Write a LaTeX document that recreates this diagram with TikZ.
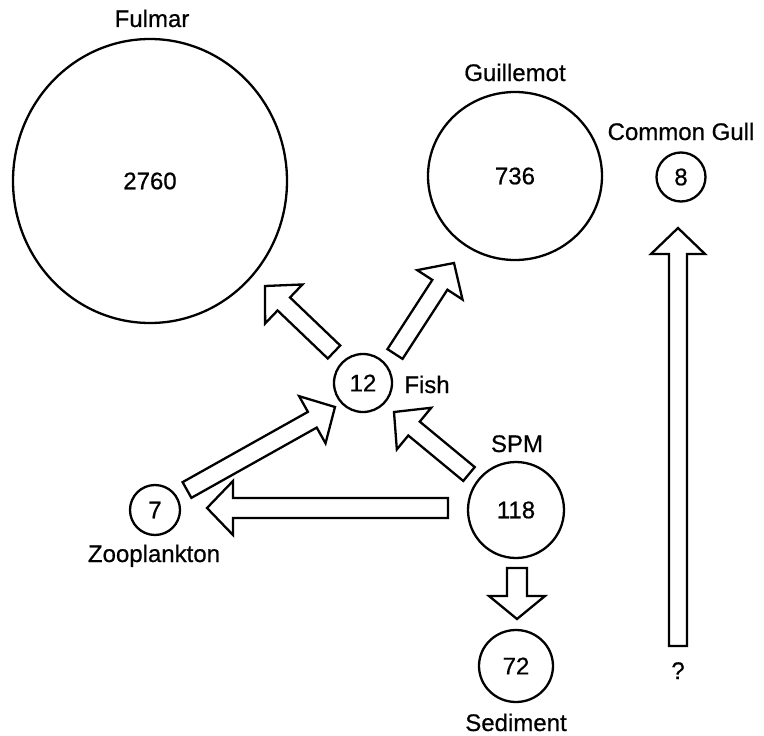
\documentclass[tikz,border=0pt]{standalone}
\usepackage{fontspec}
\setmainfont{Liberation Sans}[BoldFont=Liberation Sans, BoldFeatures={FakeBold=0.6}]
\usetikzlibrary{calc,shapes.geometric}
\newcommand{\shw}{9pt}
\newcommand{\hdw}{27pt}
\newcommand{\hdl}{26pt}
\newcommand{\fatarr}[2]{%
  \coordinate (#1-#2-b) at ($(#2)!\hdl!(#1)$);
  \draw[fatarrow] ($(#1)!\shw!90:(#2)$) -- ($(#1-#2-b)!\shw!90:(#2)$)
    -- ($(#1-#2-b)!\hdw!90:(#2)$) -- (#2) -- ($(#1-#2-b)!\hdw!-90:(#2)$)
    -- ($(#1-#2-b)!\shw!-90:(#2)$) -- ($(#1)!\shw!-90:(#2)$) -- cycle;}
\begin{document}
\begin{tikzpicture}[x=1pt,y=-1pt,
  txt/.style={font=\fontsize{24}{28}\selectfont\bfseries},
  pool/.style={txt, draw, line width=2.3pt, ellipse, inner sep=0pt},
  lab/.style={txt, anchor=base, inner sep=0pt},
  fatarrow/.style={draw, line width=2.3pt, line join=miter, fill=white}]
\useasboundingbox (0,0) rectangle (764,736);
% pools
\node[pool, minimum width=274pt, minimum height=284pt] (fulmar) at (150,181) {2760};
\node[pool, minimum width=174pt, minimum height=168pt] (guill) at (515,176) {736};
\node[pool, minimum width=49pt, minimum height=49pt] (gull) at (681,177) {8};
\node[pool, minimum width=58pt, minimum height=58pt] (fish) at (363,383) {12};
\node[pool, minimum width=96pt, minimum height=96pt] (spm) at (516,510) {118};
\node[pool, minimum width=50pt, minimum height=50pt] (zoo) at (155,510) {7};
\node[pool, minimum width=74pt, minimum height=72pt] (sed) at (516,666) {72};
% labels
\node[lab] (lfulmar) at (152,27) {Fulmar};
\node[lab] (lguill) at (515,81) {Guillemot};
\node[lab] (lgull) at (681,140) {Common Gull};
\node[lab] (lfish) at (427,393) {Fish};
\node[lab] (lspm) at (517,452) {SPM};
\node[lab] (lzoo) at (154,562) {Zooplankton};
\node[lab] (lsed) at (516,731) {Sediment};
\node[lab] (lq) at (678,679) {?};
% arrow end points
\coordinate (fishFulT) at (334,352);
\coordinate (fishFulH) at (265,286);
\coordinate (fishGuiT) at (395,354);
\coordinate (fishGuiH) at (454,263);
\coordinate (zooFishT) at (187,490);
\coordinate (zooFishH) at (335,407);
\coordinate (spmFishT) at (469,474);
\coordinate (spmFishH) at (394,412);
\coordinate (spmZooT) at (448,508);
\coordinate (spmZooH) at (207,508);
\coordinate (spmSedT) at (517,568);
\coordinate (spmSedH) at (517,619);
\coordinate (qGullT) at (678,646);
\coordinate (qGullH) at (678,228);
\fatarr{fishFulT}{fishFulH}
\fatarr{fishGuiT}{fishGuiH}
\fatarr{zooFishT}{zooFishH}
\fatarr{spmFishT}{spmFishH}
\fatarr{qGullT}{qGullH}
\renewcommand{\shw}{10pt}
\fatarr{spmZooT}{spmZooH}
\renewcommand{\hdl}{23pt}
\renewcommand{\hdw}{28pt}
\fatarr{spmSedT}{spmSedH}
\end{tikzpicture}
\end{document}
